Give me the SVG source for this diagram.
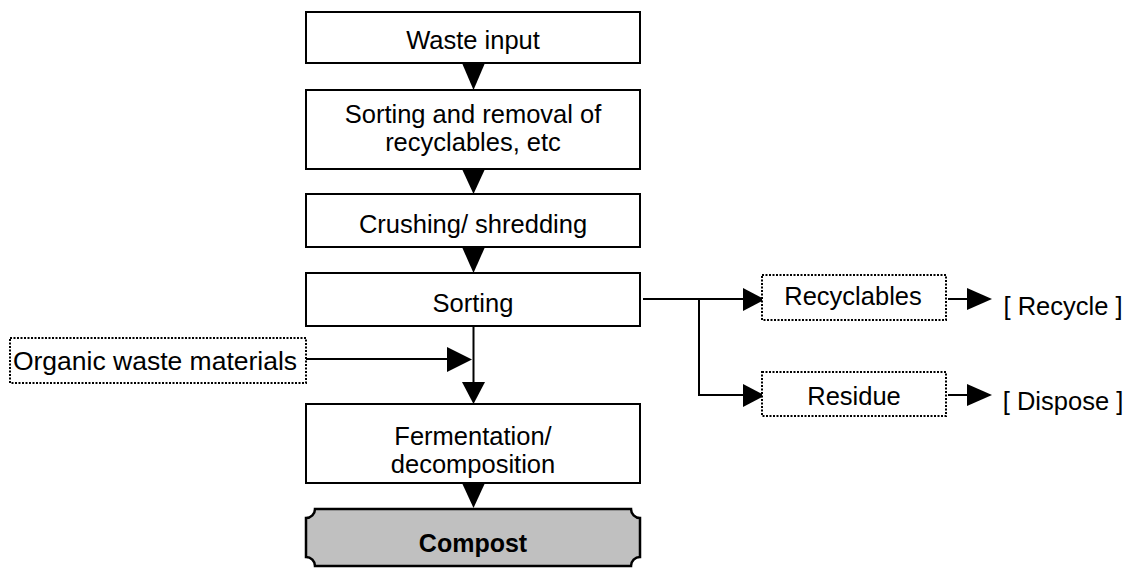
<svg xmlns="http://www.w3.org/2000/svg" width="1133" height="568" viewBox="0 0 1133 568">
<style>
.box{fill:#fff;stroke:#000;stroke-width:2}
.dot{fill:#fff;stroke:#000;stroke-width:2;stroke-dasharray:2 1.5}
.plaque{fill:#c0c0c0;stroke:#000;stroke-width:2.5}
.t{font-family:"Liberation Sans",Arial,sans-serif;font-size:25.5px;fill:#000;text-anchor:middle}
.b{font-weight:bold;font-size:25px}
.ln{stroke:#000;stroke-width:2;fill:none}
.ah{fill:#000}
</style>
<rect width="1133" height="568" fill="#fff"/>
<g id="connectors">
  <polygon class="ah" points="462,63 485,63 473.5,90"/>
  <polygon class="ah" points="462,169 485,169 473.5,194"/>
  <polygon class="ah" points="462,247 485,247 473.5,273"/>
  <line class="ln" x1="473.5" y1="326" x2="473.5" y2="384"/>
  <polygon class="ah" points="462,382 485,382 473.5,404"/>
  <line class="ln" x1="306" y1="359" x2="450" y2="359"/>
  <polygon class="ah" points="447,347 447,372 472,359.5"/>
  <polygon class="ah" points="462,483 485,483 473.5,508"/>
  <polyline class="ln" points="643,299 745,299"/>
  <polyline class="ln" points="699,299 699,395 745,395"/>
  <polygon class="ah" points="743,288 743,311 765,299.5"/>
  <polygon class="ah" points="743,384 743,407 765,395.5"/>
  <line class="ln" x1="948" y1="299" x2="970" y2="299"/>
  <polygon class="ah" points="967,288 967,310 992,299"/>
  <line class="ln" x1="948" y1="395" x2="970" y2="395"/>
  <polygon class="ah" points="967,384 967,406 992,395"/>
</g>
<g id="waste-input">
  <rect class="box" x="306" y="12" width="334" height="51"/>
  <text class="t" x="473" y="49">Waste input</text>
</g>
<g id="sorting-removal">
  <rect class="box" x="306" y="90" width="334" height="79"/>
  <text class="t" x="473" y="123">Sorting and removal of</text>
  <text class="t" x="473" y="151">recyclables, etc</text>
</g>
<g id="crushing">
  <rect class="box" x="306" y="194" width="334" height="53"/>
  <text class="t" x="473" y="233">Crushing/ shredding</text>
</g>
<g id="sorting">
  <rect class="box" x="306" y="273" width="334" height="53"/>
  <text class="t" x="473" y="312">Sorting</text>
</g>
<g id="organic">
  <rect class="dot" x="10" y="338" width="296" height="45"/>
  <text class="t" x="155" y="370" style="font-size:26.5px">Organic waste materials</text>
</g>
<g id="recyclables">
  <rect class="dot" x="762" y="275" width="184" height="45"/>
  <text class="t" x="853" y="305">Recyclables</text>
</g>
<g id="residue">
  <rect class="dot" x="762" y="372" width="184" height="44"/>
  <text class="t" x="854" y="405">Residue</text>
</g>
<g id="recycle">
  <text class="t" x="1063" y="315">[ Recycle ]</text>
</g>
<g id="dispose">
  <text class="t" x="1063" y="410">[ Dispose ]</text>
</g>
<g id="fermentation">
  <rect class="box" x="306" y="404" width="334" height="79"/>
  <text class="t" x="473" y="445">Fermentation/</text>
  <text class="t" x="473" y="473">decomposition</text>
</g>
<g id="compost">
  <path class="plaque" d="M315,509 H631 A9,9 0 0 0 640,518 V557 A9,9 0 0 0 631,566 H315 A9,9 0 0 0 306,557 V518 A9,9 0 0 0 315,509 Z"/>
  <text class="t b" x="473" y="552">Compost</text>
</g>
</svg>
